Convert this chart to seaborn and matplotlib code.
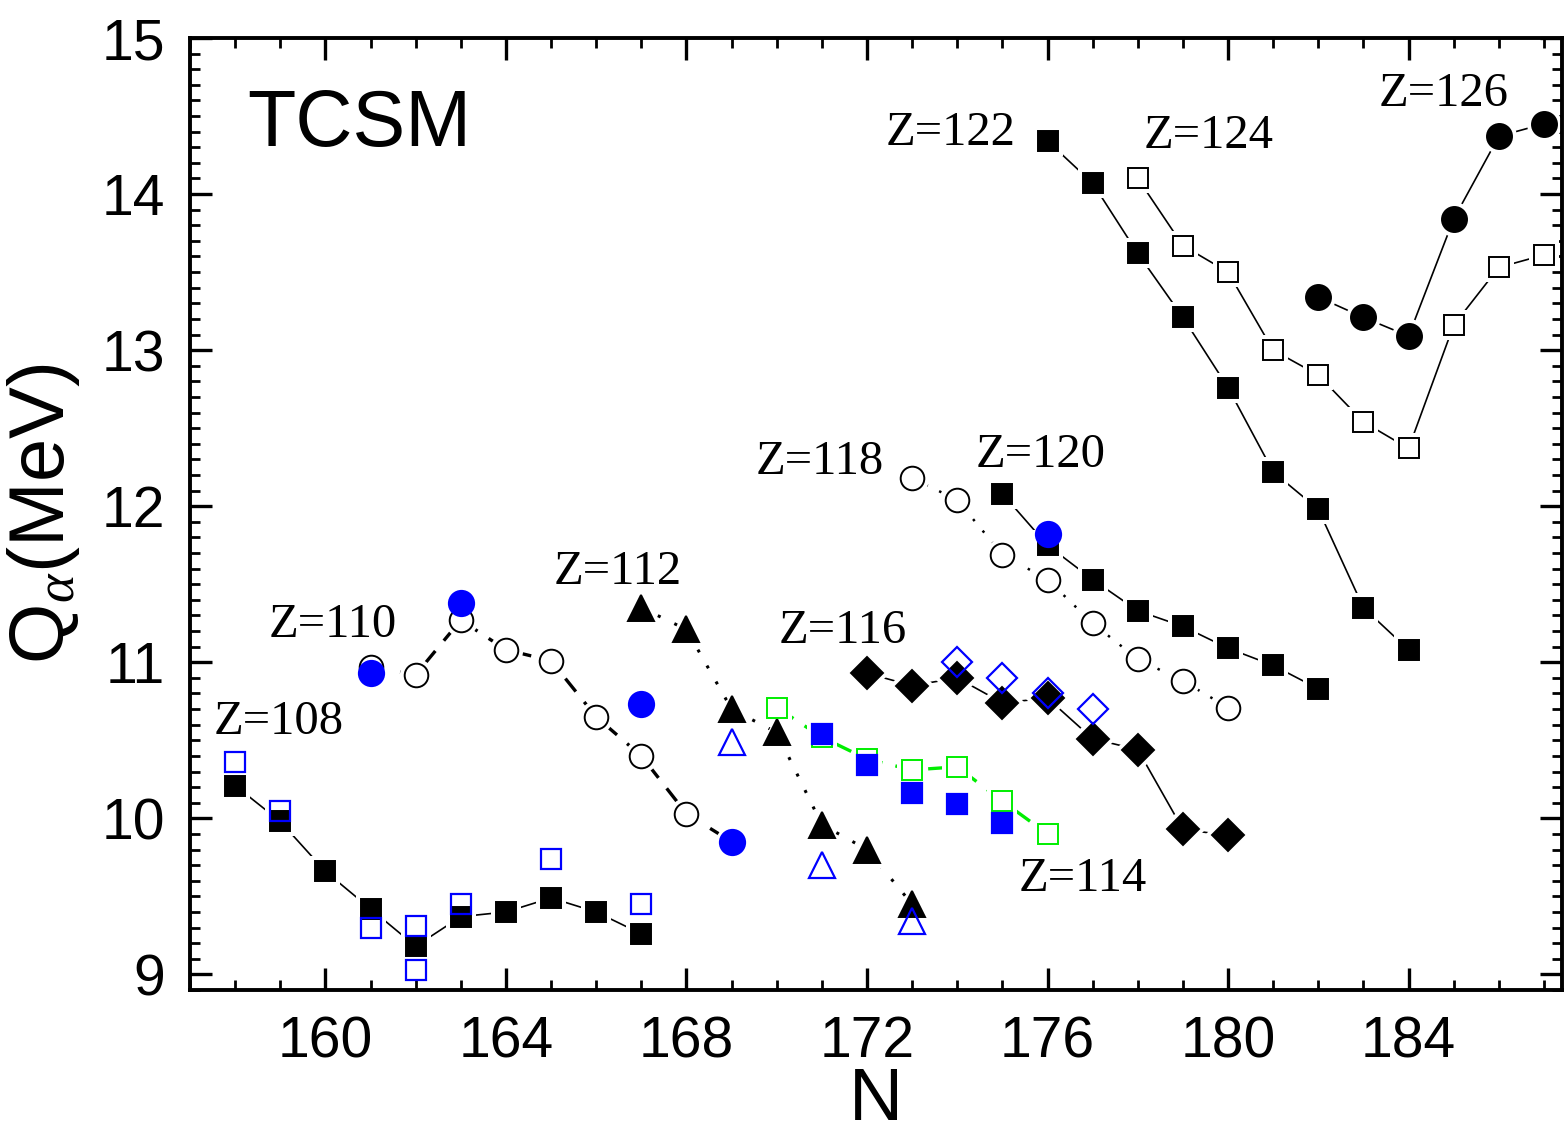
import matplotlib
matplotlib.use("Agg")
import matplotlib.pyplot as plt
from matplotlib.ticker import MultipleLocator
import seaborn as sns
import pandas as pd

# ---------------- data ----------------
N108 = [158, 159, 160, 161, 162, 163, 164, 165, 166, 167]
Q108 = [10.21, 9.98, 9.66, 9.42, 9.18, 9.37, 9.40, 9.49, 9.40, 9.26]
N108b = [158, 159, 161, 162, 162, 163, 165, 167]
Q108b = [10.36, 10.05, 9.30, 9.31, 9.03, 9.45, 9.74, 9.45]

N110 = [161, 162, 163, 164, 165, 166, 167, 168, 169]
Q110 = [10.97, 10.92, 11.27, 11.08, 11.01, 10.65, 10.40, 10.03, 9.85]
N110b = [161, 163, 167, 169]
Q110b = [10.93, 11.38, 10.73, 9.85]

N112 = [167, 168, 169, 170, 171, 172, 173]
Q112 = [11.35, 11.21, 10.70, 10.55, 9.96, 9.80, 9.45]
N112b = [169, 171, 173]
Q112b = [10.49, 9.70, 9.34]

N114 = [170, 171, 172, 173, 174, 175, 176]
Q114 = [10.71, 10.52, 10.38, 10.31, 10.33, 10.11, 9.90]
N114b = [171, 172, 173, 174, 175]
Q114b = [10.54, 10.34, 10.16, 10.09, 9.97]

N116 = [172, 173, 174, 175, 176, 177, 178, 179, 180]
Q116 = [10.93, 10.85, 10.90, 10.74, 10.77, 10.51, 10.44, 9.93, 9.89]
N116b = [174, 175, 176, 177]
Q116b = [11.00, 10.90, 10.80, 10.70]

N118 = [173, 174, 175, 176, 177, 178, 179, 180]
Q118 = [12.18, 12.04, 11.69, 11.53, 11.25, 11.02, 10.88, 10.71]

N120 = [175, 176, 177, 178, 179, 180, 181, 182]
Q120 = [12.08, 11.75, 11.53, 11.33, 11.23, 11.09, 10.98, 10.83]
N120b = [176]
Q120b = [11.82]

N122 = [176, 177, 178, 179, 180, 181, 182, 183, 184]
Q122 = [14.34, 14.07, 13.62, 13.21, 12.76, 12.22, 11.98, 11.35, 11.08]

N124 = [178, 179, 180, 181, 182, 183, 184, 185, 186, 187]
Q124 = [14.10, 13.67, 13.50, 13.00, 12.84, 12.54, 12.37, 13.16, 13.53, 13.61]

N126 = [182, 183, 184, 185, 186, 187]
Q126 = [13.34, 13.21, 13.09, 13.84, 14.37, 14.45]

LABELS = ["Z=108", "Z=110", "Z=112", "Z=116", "Z=118", "Z=120",
          "Z=114", "Z=122", "Z=124", "Z=126"]
LABEL_N = [157.52, 158.74, 165.06, 170.04, 169.53, 174.41,
           175.37, 172.42, 178.14, 183.33]
LABEL_Q = [10.62, 11.24, 11.58, 11.20, 12.28, 12.33,
           9.61, 14.39, 14.37, 14.64]

XTICKS = [160, 164, 168, 172, 176, 180, 184]
YTICKS = [9, 10, 11, 12, 13, 14, 15]

# ---------------- style ----------------
sns.set_theme(style="white")
plt.rcParams["font.family"] = ["Liberation Sans", "DejaVu Sans"]
plt.rcParams["mathtext.fontset"] = "custom"
plt.rcParams["mathtext.rm"] = "Liberation Serif"
plt.rcParams["mathtext.it"] = "Liberation Serif:italic"
for k in ["text.color", "axes.labelcolor", "xtick.color", "ytick.color",
          "axes.edgecolor"]:
    plt.rcParams[k] = "black"

fig = plt.figure(figsize=(15.66, 11.36), dpi=100)
ax = fig.add_axes([190 / 1566, 1 - 990 / 1136, (1562 - 190) / 1566, (990 - 38) / 1136])

BLUE = "#0000ff"
GREEN = "#00ee00"

# connected series: (N, Q, marker, ms, facecolor, edgecolor, linestyle, linecolor, lw)
connected = [
    (N108, Q108, "s", 15, "black", "black", "-", "black", 1.2),
    (N110, Q110, "o", 17, "white", "black", (0, (5, 4)), "black", 2.4),
    (N112, Q112, "^", 19, "black", "black", (0, (1, 5)), "black", 2.2),
    (N114, Q114, "s", 14, "white", GREEN, (0, (6, 4)), GREEN, 2.4),
    (N116, Q116, "D", 16, "black", "black", "-", "black", 1.2),
    (N118, Q118, "o", 17, "white", "black", (0, (1, 5)), "black", 1.8),
    (N120, Q120, "s", 15, "black", "black", "-", "black", 1.2),
    (N122, Q122, "s", 15, "black", "black", "-", "black", 1.2),
    (N124, Q124, "s", 14, "white", "black", "-", "black", 1.2),
    (N126, Q126, "o", 18, "black", "black", "-", "black", 1.2),
]

# unconnected (blue) points
points = [
    (N108b, Q108b, "s", 14, "none", BLUE),
    (N110b, Q110b, "o", 18, BLUE, BLUE),
    (N112b, Q112b, "^", 19, "none", BLUE),
    (N114b, Q114b, "s", 15, BLUE, BLUE),
    (N116b, Q116b, "D", 15, "none", BLUE),
    (N120b, Q120b, "o", 18, BLUE, BLUE),
]

# lines
for N, Q, m, ms, fc, ec, ls, lc, lw in connected:
    df = pd.DataFrame({"N": N, "Q": Q})
    sns.lineplot(data=df, x="N", y="Q", ax=ax, estimator=None, sort=False,
                 color=lc, linestyle=ls, linewidth=lw, zorder=1)
# white halos to create gaps around markers
for N, Q, m, ms, fc, ec, ls, lc, lw in connected:
    df = pd.DataFrame({"N": N, "Q": Q})
    sns.lineplot(data=df, x="N", y="Q", ax=ax, estimator=None, sort=False,
                 linestyle="none", marker=m, markersize=ms + 7,
                 markerfacecolor="white", markeredgecolor="white",
                 markeredgewidth=0, color="white", zorder=2)
# markers
for N, Q, m, ms, fc, ec, ls, lc, lw in connected:
    df = pd.DataFrame({"N": N, "Q": Q})
    sns.lineplot(data=df, x="N", y="Q", ax=ax, estimator=None, sort=False,
                 linestyle="none", marker=m, markersize=ms,
                 markerfacecolor=fc, markeredgecolor=ec,
                 markeredgewidth=1.4, color=ec, zorder=3)
for N, Q, m, ms, fc, ec in points:
    df = pd.DataFrame({"N": N, "Q": Q})
    sns.lineplot(data=df, x="N", y="Q", ax=ax, estimator=None, sort=False,
                 linestyle="none", marker=m, markersize=ms,
                 markerfacecolor=fc, markeredgecolor=ec,
                 markeredgewidth=1.6, color=ec, zorder=4)

# labels
for lab, x, y in zip(LABELS, LABEL_N, LABEL_Q):
    ax.text(x, y, lab, fontfamily=["Liberation Serif"], fontsize=35,
            ha="left", va="center", zorder=5, color="black")
ax.text(158.27, 14.44, "TCSM", fontfamily=["Liberation Sans"], fontsize=57,
        ha="left", va="center", zorder=5, color="black")

# axes
ax.set_xlim(157.0, 187.4)
ax.set_ylim(8.9, 15.0)
ax.set_xticks(XTICKS)
ax.set_yticks(YTICKS)
ax.xaxis.set_minor_locator(MultipleLocator(1))
ax.yaxis.set_minor_locator(MultipleLocator(0.1))
ax.tick_params(which="both", direction="in", top=True, right=True,
               bottom=True, left=True, color="black", labelcolor="black")
ax.tick_params(which="major", length=16, width=2.4, labelsize=41, pad=18)
ax.tick_params(which="minor", length=7, width=2.0)
ax.tick_params(axis="x", which="major", labeltop=False)
for sp in ax.spines.values():
    sp.set_linewidth(2.8)
    sp.set_color("black")

ax.set_xlabel("N", fontsize=54, labelpad=-2, color="black")
ax.set_ylabel(r"Q$_{\alpha}$(MeV)", fontsize=56, labelpad=14, color="black")

fig.savefig("out.png", dpi=100)
